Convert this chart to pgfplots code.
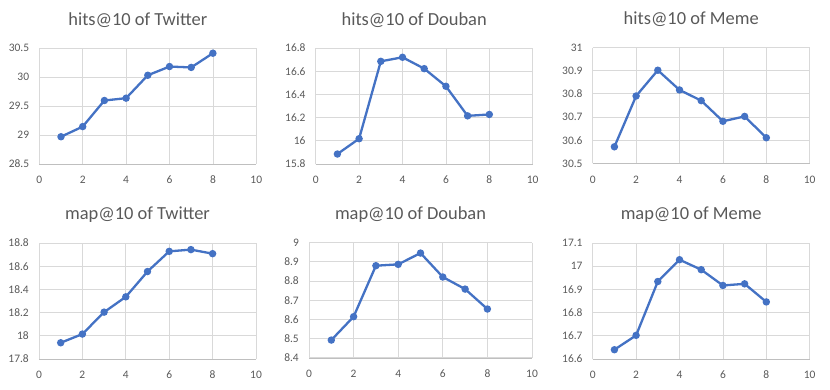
\documentclass[border=0pt]{standalone}
\usepackage{fontspec}
\setmainfont{Carlito}
\usepackage{pgfplots}
\pgfplotsset{compat=1.18}

\definecolor{xlblue}{HTML}{4472C4}
\definecolor{xlgrid}{HTML}{D9D9D9}
\definecolor{xltext}{HTML}{595959}
\definecolor{xlaxis}{HTML}{BFBFBF}

\pgfplotsset{
  panel/.style={
    scale only axis, width=217bp, height=116bp,
    anchor=origin,
    xmin=0, xmax=10, xtick={0,2,...,10},
    axis x line*=bottom, axis y line*=left,
    x axis line style={draw=xlaxis, -},
    y axis line style={draw=none},
    grid=major, grid style={xlgrid, line width=0.8bp},
    tick style={draw=none},
    /pgf/number format/assume math mode=true,
    ticklabel style={font=\fontsize{11.5}{13}\selectfont, text=xltext, inner sep=0pt},
    xticklabel style={anchor=center, yshift=-16bp},
    yticklabel style={anchor=east, xshift=-10bp},
    title style={at={(0.5,1)}, anchor=center, yshift=22bp, xshift=-10bp,
                 font=\fontsize{18.5}{21}\selectfont, text=xltext},
    clip=false,
  },
  series/.style={color=xlblue, line width=2.3bp, mark=*, mark size=2.5bp,
                 mark options={fill=xlblue, solid}},
}

\begin{document}
\begin{tikzpicture}[x=1bp, y=1bp]
\useasboundingbox (0,0) rectangle (830,389);

% top row
\begin{axis}[panel, at={(39.3bp,225bp)}, title={hits@10 of Twitter},
  ymin=28.5, ymax=30.5, ytick={28.5,29,29.5,30,30.5}]
\addplot[series] coordinates {(1,28.97)(2,29.145)(3,29.595)(4,29.635)(5,30.03)(6,30.18)(7,30.165)(8,30.41)};
\end{axis}

\begin{axis}[panel, at={(315.7bp,225bp)}, title={hits@10 of Douban},
  ymin=15.8, ymax=16.8, ytick={15.8,16,16.2,16.4,16.6,16.8}]
\addplot[series] coordinates {(1,15.886)(2,16.018)(3,16.685)(4,16.72)(5,16.622)(6,16.47)(7,16.215)(8,16.227)};
\end{axis}

\begin{axis}[panel, at={(592.7bp,225.5bp)}, title={hits@10 of Meme},
  ymin=30.5, ymax=31, ytick={30.5,30.6,30.7,30.8,30.9,31}]
\addplot[series] coordinates {(1,30.572)(2,30.791)(3,30.902)(4,30.817)(5,30.771)(6,30.682)(7,30.703)(8,30.611)};
\end{axis}

% bottom row
\begin{axis}[panel, at={(39bp,30bp)}, title={map@10 of Twitter},
  ymin=17.8, ymax=18.8, ytick={17.8,18,18.2,18.4,18.6,18.8}]
\addplot[series] coordinates {(1,17.94)(2,18.015)(3,18.204)(4,18.336)(5,18.554)(6,18.728)(7,18.743)(8,18.708)};
\end{axis}

\begin{axis}[panel, at={(309bp,31.3bp)}, width=223bp, height=115bp, title={map@10 of Douban},
  ymin=8.4, ymax=9, ytick={8.4,8.5,8.6,8.7,8.8,8.9,9}]
\addplot[series] coordinates {(1,8.492)(2,8.614)(3,8.88)(4,8.887)(5,8.946)(6,8.821)(7,8.758)(8,8.654)};
\end{axis}

\begin{axis}[panel, at={(592.7bp,30bp)}, title={map@10 of Meme},
  ymin=16.6, ymax=17.1, ytick={16.6,16.7,16.8,16.9,17,17.1}]
\addplot[series] coordinates {(1,16.64)(2,16.702)(3,16.934)(4,17.028)(5,16.985)(6,16.917)(7,16.924)(8,16.846)};
\end{axis}
\end{tikzpicture}
\end{document}
